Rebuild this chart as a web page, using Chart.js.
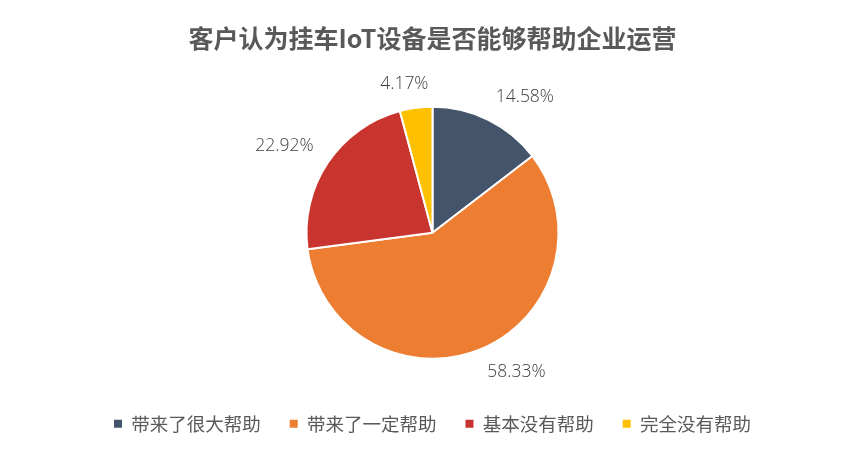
<!DOCTYPE html>
<html>
<head>
<meta charset="utf-8">
<script src="https://cdn.jsdelivr.net/npm/chart.js@4"></script>
<style>
  html, body { margin: 0; padding: 0; background: #fff; }
  #wrap { width: 865px; height: 455px; }
</style>
</head>
<body>
<div id="wrap"><canvas id="myChart" width="865" height="455"></canvas></div>
<script>
const labels = ['带来了很大帮助', '带来了一定帮助', '基本没有帮助', '完全没有帮助'];
const values = [14.58, 58.33, 22.92, 4.17];
const colors = ['#44546A', '#ED7D31', '#C9352E', '#FFC000'];

// labels outside the pie: text box pushed out from the mid angle
const outLabels = {
  id: 'outLabels',
  afterDatasetsDraw(chart) {
    const ctx = chart.ctx;
    const meta = chart.getDatasetMeta(0);
    const clamp = v => Math.max(-1, Math.min(1, v));
    ctx.save();
    ctx.font = '300 17.5px "Open Sans", "Noto Sans CJK SC", sans-serif';
    ctx.fillStyle = '#404040';
    ctx.textAlign = 'center';
    ctx.textBaseline = 'middle';
    meta.data.forEach((arc, i) => {
      const p = arc.getProps(['x', 'y', 'startAngle', 'endAngle', 'outerRadius'], true);
      const mid = (p.startAngle + p.endAngle) / 2;
      const txt = values[i].toFixed(2) + '%';
      const w = ctx.measureText(txt).width;
      const h = 14;
      const r = p.outerRadius + 17;
      const ux = Math.cos(mid), uy = Math.sin(mid);
      const cx = p.x + ux * r + clamp(ux * 3) * w / 2;
      const cy = p.y + uy * r + clamp(uy * 3) * h / 2;
      ctx.fillText(txt, cx, cy);
    });
    ctx.restore();
  }
};

const data = {
  labels: labels,
  datasets: [{
    data: values,
    backgroundColor: colors,
    borderColor: '#ffffff',
    borderWidth: 2,
    radius: 126
  }]
};

const config = {
  type: 'pie',
  data: data,
  options: {
    responsive: false,
    animation: false,
    layout: { padding: { top: 0, bottom: 12, left: 0, right: 0 } },
    plugins: {
      title: {
        display: true,
        text: '客户认为挂车IoT设备是否能够帮助企业运营',
        color: '#595959',
        font: { size: 25, weight: 'bold', family: '"Noto Sans CJK SC", sans-serif' },
        padding: { top: 23, bottom: 27 }
      },
      legend: {
        display: true,
        position: 'bottom',
        labels: {
          color: '#595959',
          font: { size: 18.5, family: '"Noto Sans CJK SC", sans-serif' },
          usePointStyle: true,
          pointStyle: 'rect',
          boxWidth: 8,
          boxHeight: 8,
          padding: 29,
          generateLabels(chart) {
            const items = Chart.overrides.pie.plugins.legend.labels.generateLabels(chart);
            items.forEach(it => { it.lineWidth = 0; it.strokeStyle = 'transparent'; });
            return items;
          }
        }
      },
      tooltip: { enabled: false }
    }
  },
  plugins: [outLabels]
};

const myChart = new Chart(document.getElementById('myChart'), config);
</script>
</body>
</html>
